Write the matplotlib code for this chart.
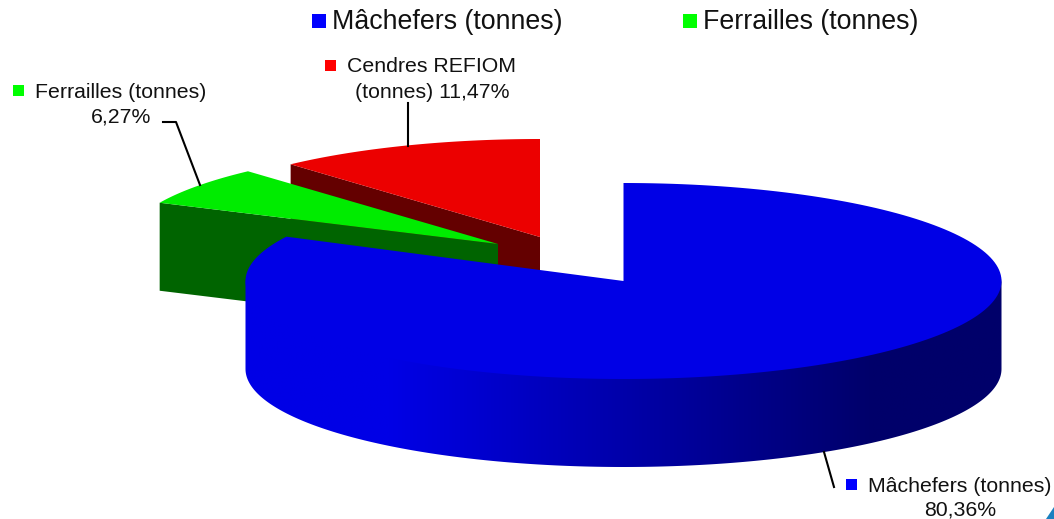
import matplotlib
matplotlib.use("Agg")
import matplotlib.pyplot as plt
import numpy as np
from matplotlib.colors import LinearSegmentedColormap
from matplotlib.patches import Polygon, Rectangle

plt.rcParams["font.family"] = ["Liberation Sans", "DejaVu Sans"]

categories = ["Mâchefers (tonnes)", "Ferrailles (tonnes)", "Cendres REFIOM (tonnes)"]
shares = [80.36, 6.27, 11.47]
legend_labels = ["Mâchefers (tonnes)", "Ferrailles (tonnes)"]

# position du sommet de chaque part (parts écartées), en pixels
tips = [(623.5, 281), (498, 244), (540, 237)]
radius_x = [378, 373, 372]
radius_y = 98
depth = 88

top_colors = ["#0000E6", "#00EC00", "#EC0000"]
side_colors = [None, "#006400", "#640000"]
key_colors = ["#0000FF", "#00FF00", "#FF0000"]

angles = np.cumsum([0] + shares) / sum(shares) * 2 * np.pi
blue_extra = np.radians(2)  # la perspective ouvre un peu la part bleue


def arc(i, a0, a1):
    # 0 = midi, sens horaire
    t = np.linspace(a0, a1, 200)
    return np.column_stack([tips[i][0] + radius_x[i] * np.sin(t),
                            tips[i][1] - radius_y * np.cos(t)])


def shift(pts, dy):
    return pts + np.array([0, dy])


fig = plt.figure(figsize=(10.54, 5.19), dpi=100)
ax = fig.add_axes([0, 0, 1, 1])
ax.set_xlim(0, 1054)
ax.set_ylim(519, 0)
ax.axis("off")

# parts de derrière : rouge puis vert
for i, z in [(2, 2), (1, 4)]:
    a0, a1 = angles[i], angles[i + 1]
    # face coupée visible : du sommet vers le bord gauche
    edge = arc(i, a0, a0)[:1]
    cut = np.vstack([[tips[i]], edge, shift(edge, depth), shift(np.array([tips[i]]), depth)])
    ax.add_patch(Polygon(cut, closed=True, fc=side_colors[i], ec="none", zorder=z))
    top = np.vstack([[tips[i]], arc(i, a0, a1)])
    ax.add_patch(Polygon(top, closed=True, fc=top_colors[i], ec="none", zorder=z + 1))

# part bleue : flanc en dégradé puis dessus
a0, a1 = angles[0], angles[1] + blue_extra
front = arc(0, np.pi / 2, 3 * np.pi / 2)
flank = Polygon(np.vstack([shift(front, -4), shift(front, depth)[::-1]]), closed=True, fc="none", ec="none")
ax.add_patch(flank)
cmap = LinearSegmentedColormap.from_list(
    "flanc", [(0, "#0000E6"), (0.19, "#0000E6"), (0.83, "#00006A"), (1, "#00006A")])
grad = ax.imshow(np.linspace(0, 1, 512)[None, :], cmap=cmap, aspect="auto",
                 extent=[245, 1002, 470, 270], zorder=6, interpolation="bilinear")
grad.set_clip_path(flank)
ax.set_xlim(0, 1054)
ax.set_ylim(519, 0)
top = np.vstack([[tips[0]], arc(0, a0, a1)])
ax.add_patch(Polygon(top, closed=True, fc=top_colors[0], ec="none", zorder=7))

# lignes de rappel
ax.plot([163, 176, 200], [122, 122, 185], color="black", lw=1.5, zorder=8)
ax.plot([408, 408], [103, 146], color="black", lw=1.5, zorder=8)
ax.plot([824, 834], [452, 487], color="black", lw=1.5, zorder=8)


def key(x, y, size, color):
    ax.add_patch(Rectangle((x, y), size, size, fc=color, ec="none", zorder=9))


# légende du haut
legend_size = 19.3
key(312, 14, 14, key_colors[0])
ax.text(332, 22, legend_labels[0], fontsize=legend_size, va="center", ha="left", color="#111111")
key(683, 14, 14, key_colors[1])
ax.text(703, 22, legend_labels[1], fontsize=legend_size, va="center", ha="left", color="#111111")

# étiquettes
label_size = 15.3
key(13, 85, 11, key_colors[1])
ax.text(35, 92.5, categories[1], fontsize=label_size, va="center", ha="left", color="#111111")
ax.text(151, 117, f"{shares[1]:.2f}%".replace(".", ","), fontsize=label_size, va="center", ha="right", color="#111111")

key(325, 60, 11, key_colors[2])
ax.text(347, 67, "Cendres REFIOM", fontsize=label_size, va="center", ha="left", color="#111111")
ax.text(432, 92, f"(tonnes) {shares[2]:.2f}%".replace(".", ","), fontsize=label_size, va="center", ha="center", color="#111111")

key(846, 479, 11, key_colors[0])
ax.text(868, 486, categories[0], fontsize=label_size, va="center", ha="left", color="#111111")
ax.text(960, 510, f"{shares[0]:.2f}%".replace(".", ","), fontsize=label_size, va="center", ha="center", color="#111111")

# coin décoratif en bas à droite
ax.add_patch(Polygon([(1046, 519), (1054, 507), (1054, 519)], closed=True, fc="#1A80C0", ec="none"))

fig.savefig("out.png", dpi=100)
